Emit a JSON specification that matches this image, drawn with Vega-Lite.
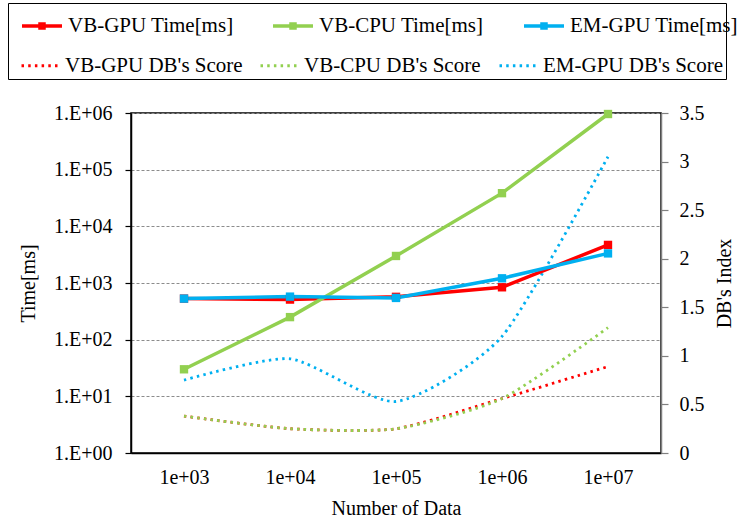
{
  "$schema": "https://vega.github.io/schema/vega-lite/v6.json",
  "width": 530,
  "height": 340,
  "autosize": {"type": "none"},
  "padding": {"left": 131, "top": 113, "right": 76, "bottom": 71},
  "background": "white",
  "datasets": {
    "time": [
      {"n": "1e+03", "series": "VB-GPU Time[ms]", "ms": 530},
      {"n": "1e+04", "series": "VB-GPU Time[ms]", "ms": 510},
      {"n": "1e+05", "series": "VB-GPU Time[ms]", "ms": 570},
      {"n": "1e+06", "series": "VB-GPU Time[ms]", "ms": 840},
      {"n": "1e+07", "series": "VB-GPU Time[ms]", "ms": 4700},
      {"n": "1e+03", "series": "VB-CPU Time[ms]", "ms": 30},
      {"n": "1e+04", "series": "VB-CPU Time[ms]", "ms": 250},
      {"n": "1e+05", "series": "VB-CPU Time[ms]", "ms": 3000},
      {"n": "1e+06", "series": "VB-CPU Time[ms]", "ms": 38500},
      {"n": "1e+07", "series": "VB-CPU Time[ms]", "ms": 960000},
      {"n": "1e+03", "series": "EM-GPU Time[ms]", "ms": 530},
      {"n": "1e+04", "series": "EM-GPU Time[ms]", "ms": 575},
      {"n": "1e+05", "series": "EM-GPU Time[ms]", "ms": 545},
      {"n": "1e+06", "series": "EM-GPU Time[ms]", "ms": 1210},
      {"n": "1e+07", "series": "EM-GPU Time[ms]", "ms": 3330}
    ],
    "db": [
      {"n": "1e+03", "series": "VB-GPU DB's Score", "score": 0.38},
      {"n": "1e+04", "series": "VB-GPU DB's Score", "score": 0.25},
      {"n": "1e+05", "series": "VB-GPU DB's Score", "score": 0.25},
      {"n": "1e+06", "series": "VB-GPU DB's Score", "score": 0.56},
      {"n": "1e+07", "series": "VB-GPU DB's Score", "score": 0.89},
      {"n": "1e+03", "series": "VB-CPU DB's Score", "score": 0.38},
      {"n": "1e+04", "series": "VB-CPU DB's Score", "score": 0.25},
      {"n": "1e+05", "series": "VB-CPU DB's Score", "score": 0.25},
      {"n": "1e+06", "series": "VB-CPU DB's Score", "score": 0.56},
      {"n": "1e+07", "series": "VB-CPU DB's Score", "score": 1.29},
      {"n": "1e+03", "series": "EM-GPU DB's Score", "score": 0.75},
      {"n": "1e+04", "series": "EM-GPU DB's Score", "score": 0.97},
      {"n": "1e+05", "series": "EM-GPU DB's Score", "score": 0.53},
      {"n": "1e+06", "series": "EM-GPU DB's Score", "score": 1.2},
      {"n": "1e+07", "series": "EM-GPU DB's Score", "score": 3.05}
    ]
  },
  "config": {
    "font": "Liberation Serif",
    "view": {"stroke": "black", "strokeWidth": 1.5},
    "axis": {
      "labelFont": "Liberation Serif",
      "labelFontSize": 20,
      "labelColor": "black",
      "titleFont": "Liberation Serif",
      "titleFontSize": 20,
      "titleFontWeight": "normal",
      "titleColor": "black",
      "domainColor": "black",
      "domainWidth": 1.5,
      "tickColor": "black",
      "tickWidth": 1.2
    },
    "legend": {
      "labelFont": "Liberation Serif",
      "labelFontSize": 21,
      "labelFontWeight": "normal",
      "labelColor": "black",
      "labelLimit": 400,
      "symbolSize": 1600,
      "rowPadding": 10,
      "gridAlign": "all"
    }
  },
  "layer": [
    {
      "data": {"name": "db"},
      "mark": {"type": "line", "interpolate": "cardinal", "tension": 0.35, "strokeWidth": 2.8, "strokeDash": [2.5, 4.2]},
      "encoding": {
        "x": {
          "field": "n", "type": "ordinal",
          "scale": {"type": "point", "padding": 0.5, "domain": ["1e+03", "1e+04", "1e+05", "1e+06", "1e+07"]},
          "axis": {"title": "Number of Data", "labelAngle": 0, "ticks": false, "labelPadding": 14, "titlePadding": 11, "grid": false}
        },
        "y": {
          "field": "score", "type": "quantitative",
          "scale": {"domain": [0, 3.5], "nice": false, "zero": true},
          "axis": {"orient": "right", "title": "DB's Index", "titleAngle": 270, "titleBaseline": "top", "values": [0, 0.5, 1, 1.5, 2, 2.5, 3, 3.5], "format": "~g", "grid": false, "tickSize": 7, "labelPadding": 11, "titlePadding": 10, "domainColor": "#808080", "tickColor": "#808080"}
        },
        "color": {
          "field": "series", "type": "nominal",
          "scale": {
            "domain": ["VB-GPU DB's Score", "VB-CPU DB's Score", "EM-GPU DB's Score"],
            "range": ["#FF0000", "#92D050", "#00B0F0"]
          },
          "legend": {
            "title": "\u00a0",
            "titleFontSize": 30,
            "titlePadding": 8,
            "orient": "none",
            "legendX": -123,
            "legendY": -110,
            "columns": 3,
            "direction": "horizontal",
            "labelFont": "Liberation Serif",
            "labelOffset": 11,
            "columnPadding": 5,
            "padding": 3,
            "strokeColor": "black",
            "symbolType": "M-0.55,0L1.3,0",
            "symbolDash": [2.5, 4.2],
            "symbolStrokeWidth": 2.8
          }
        }
      }
    },
    {
      "data": {"name": "time"},
      "encoding": {
        "x": {"field": "n", "type": "ordinal"},
        "y": {
          "field": "ms", "type": "quantitative",
          "scale": {"type": "log", "domain": [1, 1000000], "nice": false},
          "axis": {
            "orient": "left", "title": "Time[ms]",
            "values": [1, 10, 100, 1000, 10000, 100000, 1000000],
            "labelExpr": "'1.E+0' + round(log(datum.value) / LN10)",
            "grid": true, "gridDash": [3, 2], "gridColor": "#8c8c8c", "gridWidth": 1,
            "tickSize": 6, "labelPadding": 13, "titlePadding": 15
          }
        },
        "color": {
          "field": "series", "type": "nominal",
          "scale": {
            "domain": ["VB-GPU Time[ms]", "VB-CPU Time[ms]", "EM-GPU Time[ms]"],
            "range": ["#FF0000", "#92D050", "#00B0F0"]
          },
          "legend": {
            "title": null,
            "orient": "none",
            "legendX": -111,
            "legendY": -109,
            "columns": 3,
            "direction": "horizontal",
            "labelFont": "Liberation Serif",
            "labelFontWeight": "normal",
            "labelOffset": 4,
            "columnPadding": 30,
            "padding": 0,
            "symbolType": "M-1,0L1,0M-0.1,-0.1L0.1,-0.1L0.1,0.1L-0.1,0.1Z",
            "symbolStrokeWidth": 3.5
          }
        }
      },
      "layer": [
        {
          "mark": {"type": "line", "strokeWidth": 3.5}
        },
        {
          "mark": {"type": "point", "shape": "square", "filled": true, "opacity": 1, "size": 70}
        }
      ]
    }
  ],
  "resolve": {"scale": {"y": "independent", "color": "independent"}, "axis": {"y": "independent"}, "legend": {"color": "independent"}}
}
